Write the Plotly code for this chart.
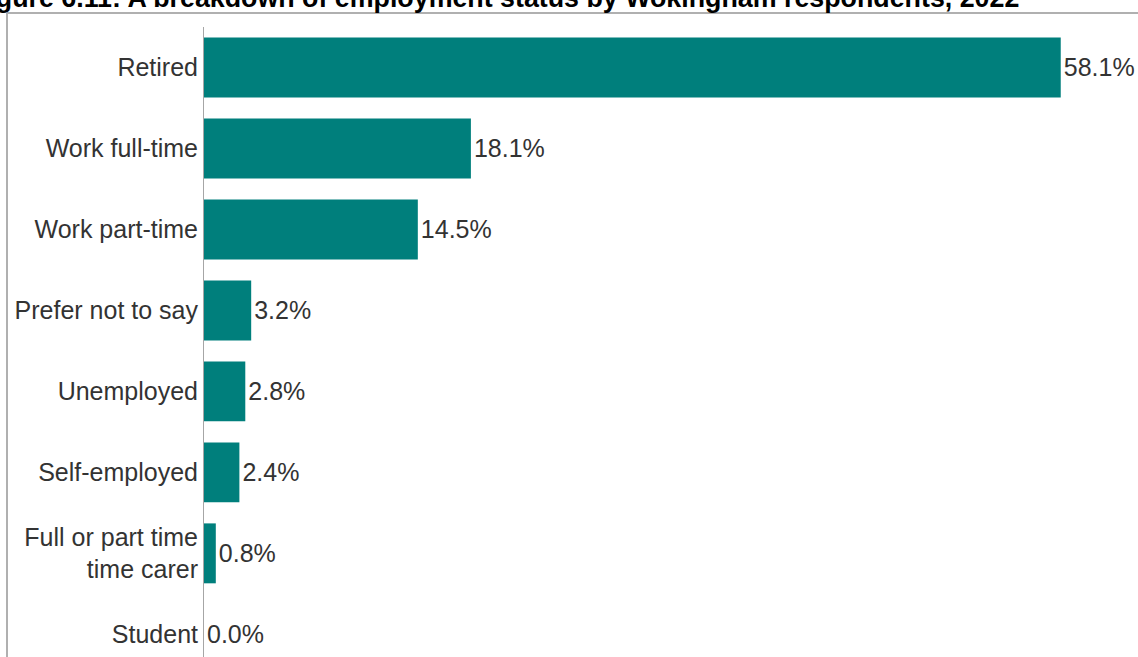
import plotly.graph_objects as go

categories = ["Retired", "Work full-time", "Work part-time", "Prefer not to say",
              "Unemployed", "Self-employed", "Full or part time<br>time carer", "Student"]
values = [58.1, 18.1, 14.5, 3.2, 2.8, 2.4, 0.8, 0.0]
labels = [f"{v:.1f}%" for v in values]
title = "Figure 6.11: A breakdown of employment status by Wokingham respondents, 2022"

W, H = 1138, 657
ml, mr, mt, mb = 204, 5, 27, 0
pw, ph = W - ml - mr, H - mt - mb

FONT = "Liberation Sans, Arial, sans-serif"

fig = go.Figure(go.Bar(
    x=values, y=categories, orientation="h",
    marker=dict(color="#007f7c", line=dict(width=0)),
    width=0.74,
    text=labels, textposition="outside", cliponaxis=False,
    textfont=dict(family=FONT, size=25, color="#333333"),
))

fig.update_layout(
    width=W, height=H,
    margin=dict(l=ml, r=mr, t=mt, b=mb),
    paper_bgcolor="white", plot_bgcolor="white",
    showlegend=False,
    font=dict(family=FONT, size=25, color="#333333"),
    xaxis=dict(range=[0, 63], visible=False),
    yaxis=dict(categoryorder="array", categoryarray=categories, automargin=False,
               range=[7.28, -0.5], showline=True, linecolor="#a6a6a6", linewidth=1,
               ticks="", ticklabelstandoff=0, showgrid=False, zeroline=False,
               tickfont=dict(size=25, color="#333333")),
    shapes=[
        dict(type="line", xref="paper", yref="paper",
             x0=(7 - ml) / pw, x1=(W + 10 - ml) / pw,
             y0=1 + (mt - 13) / ph, y1=1 + (mt - 13) / ph,
             line=dict(color="#b0b0b0", width=2)),
        dict(type="line", xref="paper", yref="paper",
             x0=(7 - ml) / pw, x1=(7 - ml) / pw,
             y0=1 + (mt - 13) / ph, y1=-0.1,
             line=dict(color="#b0b0b0", width=2)),
    ],
    annotations=[dict(text="<b>" + title + "</b>", xref="paper", yref="paper",
                      x=(1021 - ml) / pw, y=1 + (mt - 15) / ph,
                      xanchor="right", yanchor="bottom",
                      showarrow=False, font=dict(size=26.8, color="black", family=FONT))],
)

fig.write_html("out.html", config={"displayModeBar": False},
               post_script="document.body.style.margin='0px';document.body.style.overflow='hidden';")
